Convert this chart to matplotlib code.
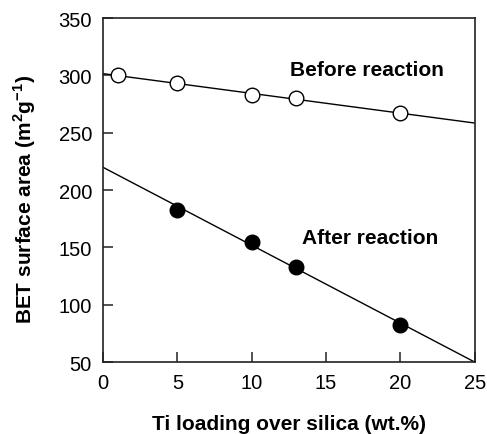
import numpy as np
import matplotlib
matplotlib.use("Agg")
import matplotlib.pyplot as plt

plt.rcParams['font.family'] = ['Liberation Sans', 'DejaVu Sans']
plt.rcParams['mathtext.fontset'] = 'custom'
plt.rcParams['mathtext.bf'] = 'Liberation Sans:bold'
plt.rcParams['mathtext.rm'] = 'Liberation Sans'

# Ti loading (wt.%) and BET surface area (m2/g)
before_x = [1, 5, 10, 13, 20]
before_y = [300, 293, 283, 280, 267]
after_x = [5, 10, 13, 20]
after_y = [183, 155, 133, 82]

x_ticks = [0, 5, 10, 15, 20, 25]
y_ticks = [50, 100, 150, 200, 250, 300, 350]

fig = plt.figure(figsize=(4.87, 4.35), dpi=100)
ax = fig.add_axes([0.2115, 0.1655, 0.7635, 0.7908])

# linear regression lines across the full x range
xs = np.array([0, 25])
for xd, yd in ((before_x, before_y), (after_x, after_y)):
    k, b = np.polyfit(xd, yd, 1)
    ax.plot(xs, k * xs + b, color='black', lw=1.0, zorder=2)

ax.plot(before_x, before_y, 'o', ms=10.5, mfc='white', mec='black', mew=1.0, zorder=3)
ax.plot(after_x, after_y, 'o', ms=10.5, mfc='black', mec='black', mew=1.0, zorder=3)

ax.set_xlim(0, 25)
ax.set_ylim(50, 350)
ax.set_xticks(x_ticks)
ax.set_yticks(y_ticks)
ax.tick_params(direction='in', length=7.5, width=1.1, labelsize=14.5, pad=8,
               top=False, right=False, colors='#222222', labelcolor='black')
for s in ax.spines.values():
    s.set_linewidth(1.2)
    s.set_color('#222222')

ax.text(12.55, 305, 'Before reaction', fontsize=15, fontweight='bold', va='center', ha='left')
ax.text(13.4, 159, 'After reaction', fontsize=15, fontweight='bold', va='center', ha='left')

ax.set_xlabel('Ti loading over silica (wt.%)', fontsize=15, fontweight='bold', labelpad=16)
ax.set_ylabel(r'BET surface area (m$^{\mathbf{2}}$g$^{\mathbf{-1}}$)', fontsize=15,
              fontweight='bold')
ax.yaxis.set_label_coords(-0.175, 0.475)

fig.savefig('out.png', dpi=100)
